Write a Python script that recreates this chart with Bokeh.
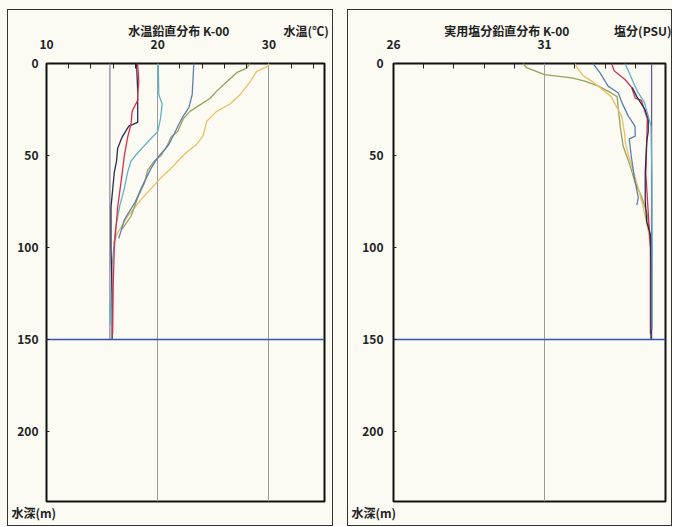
from bokeh.plotting import figure
from bokeh.models import Range1d, FixedTicker, LinearAxis, Title
from bokeh.layouts import row
from bokeh.embed import file_html
from bokeh.resources import INLINE

FONT = "Noto Sans CJK JP"
BG = "#fbfaf3"

# ---------------- data: water temperature (deg C) vs depth (m) ----------------
temp_red_depth = [0, 10, 17, 20, 26, 33, 40, 50, 60, 78, 100, 120, 147]
temp_red_value = [18.2, 18.3, 18.2, 18.2, 17.7, 17.6, 17.3, 17.0, 16.8, 16.4, 16.1, 16.0, 15.95]

temp_navy_depth = [0, 15, 32, 34, 40, 46, 53, 59, 78, 100, 125, 150]
temp_navy_value = [18.1, 18.2, 18.2, 17.4, 16.8, 16.4, 16.3, 16.1, 15.8, 15.8, 15.9, 15.9]

temp_teal_depth = [0, 17, 22, 30, 37, 42, 46, 50, 53, 59, 68, 77, 90, 110, 142]
temp_teal_value = [20.05, 20.1, 20.4, 20.25, 20.0, 19.2, 18.6, 18.0, 17.6, 17.3, 17.0, 16.6, 16.2, 15.9, 15.7]

temp_blue_depth = [0, 17, 24, 28, 33, 38, 44, 47, 51, 57, 68, 75, 85, 95]
temp_blue_value = [23.25, 23.1, 22.8, 22.35, 21.9, 21.5, 21.0, 20.6, 20.0, 19.4, 18.5, 18.0, 17.0, 16.5]

temp_olive_depth = [0, 2.5, 5, 10, 15, 19, 22.5, 26, 30, 37, 40, 44, 50, 53, 58, 65, 73, 83, 90]
temp_olive_value = [28.3, 28.0, 27.1, 26.2, 25.3, 24.7, 23.8, 22.9, 22.3, 21.8, 21.2, 20.9, 20.3, 19.7, 19.1, 18.8, 18.2, 17.6, 16.8]

temp_yellow_depth = [0, 1.6, 4.3, 10, 17, 22, 26, 31.5, 39, 44, 48, 51.5, 57, 62, 68, 74, 83, 92, 98]
temp_yellow_value = [30.0, 29.9, 28.9, 28.3, 27.4, 26.5, 25.3, 24.4, 24.1, 23.5, 22.65, 22.05, 21.2, 20.3, 19.4, 18.5, 17.3, 16.4, 16.0]

temp_ref_depth = [0, 150]
temp_ref_value = [15.7, 15.7]

# ---------------- data: practical salinity (PSU) vs depth (m) ----------------
sal_olive_depth = [0, 2.3, 6, 7.8, 9.6, 12.3, 16, 18, 25, 34, 45, 54, 65, 72, 82, 95]
sal_olive_value = [30.29, 30.4, 31.0, 31.9, 32.33, 32.78, 33.2, 33.4, 33.44, 33.5, 33.6, 33.8, 34.0, 34.2, 34.4, 34.5]

sal_yellow_depth = [0, 3, 7, 10, 14, 18, 28.6, 39.5, 42, 49.6, 58.7, 67.8, 78.6, 91, 100]
sal_yellow_value = [32.0, 32.1, 32.3, 32.6, 32.9, 33.2, 33.55, 33.66, 33.66, 33.77, 33.94, 34.1, 34.27, 34.43, 34.5]

sal_blue_depth = [0, 5, 12.3, 16, 21, 28.6, 34, 39.5, 41, 49.6, 62, 73, 77]
sal_blue_value = [32.6, 32.83, 33.1, 33.44, 33.55, 33.77, 33.99, 34.0, 33.8, 33.86, 33.97, 34.1, 34.05]

sal_red_depth = [0, 4, 8.7, 13, 18.8, 20, 30, 60, 100, 147]
sal_red_value = [33.22, 33.3, 33.66, 33.88, 34.0, 34.2, 34.4, 34.35, 34.5, 34.5]

sal_teal_depth = [0, 5, 10.5, 16, 21, 28.6, 34, 60, 100, 145]
sal_teal_value = [33.66, 33.8, 33.94, 34.1, 34.3, 34.43, 34.52, 34.55, 34.56, 34.56]

sal_navy_depth = [13, 18, 25, 30, 37, 42, 59, 75, 86, 93, 110, 150]
sal_navy_value = [33.9, 34.05, 34.32, 34.43, 34.43, 34.38, 34.33, 34.33, 34.38, 34.5, 34.52, 34.52]

sal_ref_depth = [0, 150]
sal_ref_value = [34.54, 34.54]

bottom_depth = 150
depth_ticks = [0, 50, 100, 150, 200]
temp_ticks = [10, 20, 30]
temp_minor = [12, 14, 16, 18, 22, 24, 26, 28, 32, 34]
sal_ticks = [26, 31, 36]
sal_minor = [27, 28, 29, 30, 32, 33, 34, 35]

temp_title = "水温鉛直分布 K-00"
temp_unit = "水温(℃)"
sal_title = "実用塩分鉛直分布 K-00"
sal_unit = "塩分(PSU)"
depth_label = "水深(m)"

COLORS = {
    "ref_t": "#8f8c9c", "ref_s": "#6b5a90",
    "red": "#d8304c", "navy": "#2c2a55", "teal": "#5fb3c9",
    "blue": "#5d7fae", "olive": "#96a25a", "yellow": "#e9c062",
}

H = 517
TOP, BOTTOM = 53, 26


def style_text_axis(ax):
    ax.major_label_text_font = FONT
    ax.major_label_text_font_style = "bold"
    ax.major_label_text_font_size = "12px"
    ax.major_label_text_color = "#222222"


def panel(width, left, right, xr, ticks, minor, title, unit, title_at, unit_at, series, margin, ystand):
    p = figure(width=width, height=H, output_backend="svg", toolbar_location=None,
               x_range=Range1d(*xr), y_range=Range1d(238, 0),
               x_axis_location="above", min_border_left=left, min_border_right=right,
               min_border_top=TOP, min_border_bottom=BOTTOM)
    p.margin = margin
    p.background_fill_color = BG
    p.border_fill_color = BG
    p.outline_line_color = "#111111"
    p.outline_line_width = 2
    p.styles = {"border": "1.5px solid #333333", "box-sizing": "border-box"}

    for d, v, c in series:
        p.line(v, d, line_color=COLORS[c], line_width=1.3)
    p.hspan(y=[bottom_depth], line_color="#3553b0", line_width=1.5)

    xa = p.xaxis[0]
    xa.ticker = FixedTicker(ticks=ticks, minor_ticks=minor)
    xa.axis_line_color = None
    xa.major_tick_line_color = None
    xa.minor_tick_line_color = "#222222"
    xa.minor_tick_in = 5
    xa.minor_tick_out = 0
    xa.major_label_standoff = 9
    style_text_axis(xa)

    ya = p.yaxis[0]
    ya.ticker = FixedTicker(ticks=depth_ticks)
    ya.axis_line_color = None
    ya.major_tick_line_color = "#222222"
    ya.major_tick_in = 3
    ya.major_tick_out = 0
    ya.minor_tick_line_color = None
    ya.major_label_standoff = ystand
    style_text_axis(ya)

    # header row: chart title and unit, placed along the top scale
    head = LinearAxis(ticker=FixedTicker(ticks=[title_at, unit_at]),
                      major_label_overrides={title_at: title, unit_at: unit})
    head.axis_line_color = None
    head.major_tick_line_color = None
    head.minor_tick_line_color = None
    head.major_label_standoff = -8
    style_text_axis(head)
    p.add_layout(head, "above")

    p.add_layout(Title(text=depth_label, align="left", offset=-(left - 3), standoff=0,
                       text_font=FONT, text_font_style="bold", text_font_size="12px",
                       text_color="#222222"), "below")

    p.xgrid.ticker = FixedTicker(ticks=ticks)
    p.xgrid.grid_line_color = "#9a9a9a"
    p.xgrid.grid_line_width = 1
    p.ygrid.grid_line_color = None
    return p


p1 = panel(326, 38, 10, (10, 35), temp_ticks, temp_minor, temp_title, temp_unit, 21.9, 33.35, [
    (temp_ref_depth, temp_ref_value, "ref_t"),
    (temp_yellow_depth, temp_yellow_value, "yellow"),
    (temp_olive_depth, temp_olive_value, "olive"),
    (temp_blue_depth, temp_blue_value, "blue"),
    (temp_teal_depth, temp_teal_value, "teal"),
    (temp_navy_depth, temp_navy_value, "navy"),
    (temp_red_depth, temp_red_value, "red"),
], (9, 0, 0, 7), 8)

p2 = panel(325, 45, 8, (26, 35), sal_ticks, sal_minor, sal_title, sal_unit, 29.75, 34.3, [
    (sal_ref_depth, sal_ref_value, "ref_s"),
    (sal_olive_depth, sal_olive_value, "olive"),
    (sal_yellow_depth, sal_yellow_value, "yellow"),
    (sal_blue_depth, sal_blue_value, "blue"),
    (sal_red_depth, sal_red_value, "red"),
    (sal_navy_depth, sal_navy_value, "navy"),
    (sal_teal_depth, sal_teal_value, "teal"),
], (9, 0, 0, 0), 10)

layout = row(p1, p2, spacing=14)
layout.styles = {"background-color": BG}
open("out.html", "w").write(file_html(layout, INLINE))
